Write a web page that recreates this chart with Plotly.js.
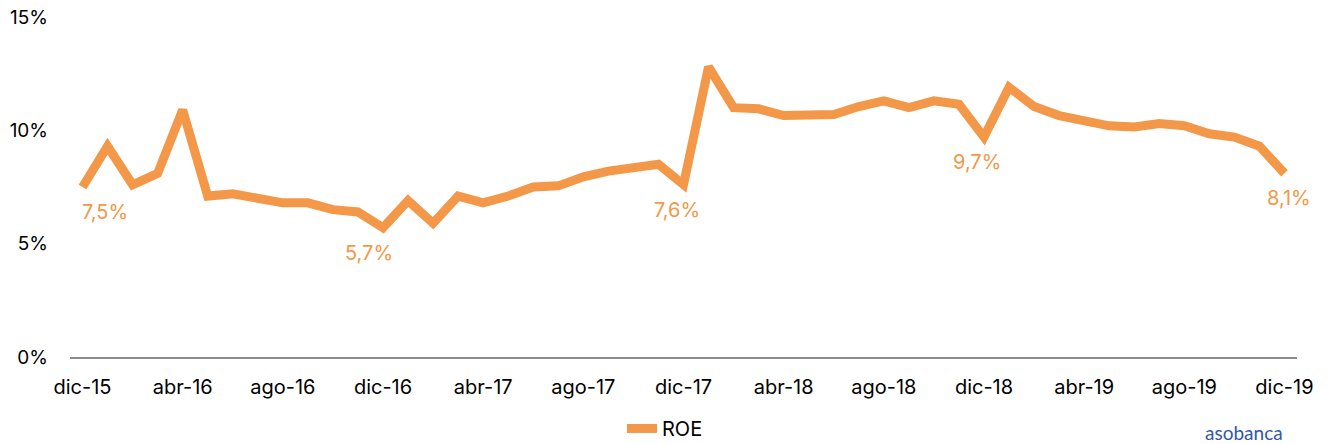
<!DOCTYPE html>
<html>
<head>
<meta charset="utf-8">
<script src="https://cdn.plot.ly/plotly-3.0.1.min.js"></script>
<style>html,body{margin:0;padding:0;background:#fff;}#chart{width:1330px;height:444px;}</style>
</head>
<body>
<div id="chart"></div>
<script>
const months = [
 "dic-15",
 "ene-16","feb-16","mar-16","abr-16","may-16","jun-16","jul-16","ago-16","sep-16","oct-16","nov-16","dic-16",
 "ene-17","feb-17","mar-17","abr-17","may-17","jun-17","jul-17","ago-17","sep-17","oct-17","nov-17","dic-17",
 "ene-18","feb-18","mar-18","abr-18","may-18","jun-18","jul-18","ago-18","sep-18","oct-18","nov-18","dic-18",
 "ene-19","feb-19","mar-19","abr-19","may-19","jun-19","jul-19","ago-19","sep-19","oct-19","nov-19","dic-19"
];
const roe = [
 7.5,
 9.3, 7.6, 8.1, 10.9, 7.1, 7.2, 7.0, 6.8, 6.8, 6.5, 6.4, 5.7,
 6.9, 5.9, 7.1, 6.8, 7.1, 7.5, 7.55, 7.95, 8.2, 8.4, 8.5, 7.6,
 12.8, 11.0, 10.95, 10.65, 10.65, 10.7, 11.05, 11.3, 11.0, 11.3, 11.15, 9.7,
 11.9, 11.05, 10.65, 10.4, 10.2, 10.15, 10.3, 10.2, 9.85, 9.7, 9.3, 8.1
];
const tickLabels = ["dic-15","abr-16","ago-16","dic-16","abr-17","ago-17","dic-17","abr-18","ago-18","dic-18","abr-19","ago-19","dic-19"];
const yTicks = [0, 5, 10, 15];
const labelMonths = ["dic-15","dic-16","dic-17","dic-18","dic-19"];

const orange = "#F39848";
const FONT = "Inter, 'Open Sans', sans-serif";
const fmt = v => v.toFixed(1).replace('.', ',') + '%';

const labelShift = {"dic-15": 22, "dic-19": 5, "dic-16": -14, "dic-17": -7, "dic-18": -7};
const annotations = labelMonths.map(m => {
  const i = months.indexOf(m);
  return {
    x: m, y: roe[i], xref: 'x', yref: 'y', text: fmt(roe[i]), showarrow: false,
    yanchor: 'top', xanchor: 'center', yshift: -11, xshift: labelShift[m] || 0,
    font: {family: FONT, size: 20, color: orange}
  };
});
annotations.push({
  xref: 'paper', yref: 'paper', x: 1.0, y: 0, xanchor: 'right', yanchor: 'middle',
  xshift: -12, yshift: -75,
  text: 'asobanca', showarrow: false,
  font: {family: "Lato, sans-serif", size: 19, color: '#3358A8'}
});

const trace = {
  x: months, y: roe, type: 'scatter', mode: 'lines', name: 'ROE',
  line: {color: orange, width: 9, shape: 'linear'}
};

const layout = {
  width: 1330, height: 444,
  margin: {l: 70, r: 33, t: 17, b: 87, autoexpand: false},
  paper_bgcolor: '#fff', plot_bgcolor: '#fff',
  font: {family: FONT, size: 19, color: '#000'},
  showlegend: true,
  legend: {orientation: 'h', x: 0.5, xanchor: 'center', xref: 'container',
           y: 0.035, yanchor: 'middle', yref: 'container',
           font: {family: FONT, size: 20, color: '#000'}},
  xaxis: {
    type: 'category', range: [-0.5, months.length - 0.5], automargin: false,
    tickmode: 'array', tickvals: tickLabels, ticktext: tickLabels,
    showgrid: false, zeroline: false, showline: true, linecolor: '#8C8C8C', linewidth: 2,
    ticks: '', ticklabelstandoff: 11, tickfont: {family: FONT, size: 20, color: '#000'}
  },
  yaxis: {
    range: [0, 15], tickmode: 'array', tickvals: yTicks, ticktext: yTicks.map(v => v + '%'),
    automargin: false,
    showgrid: false, zeroline: false, showline: false, ticks: '',
    ticklabelstandoff: 21, tickfont: {family: FONT, size: 19, color: '#000'}
  },
  annotations: annotations
};

Plotly.newPlot('chart', [trace], layout, {displayModeBar: false, staticPlot: true});
</script>
</body>
</html>
